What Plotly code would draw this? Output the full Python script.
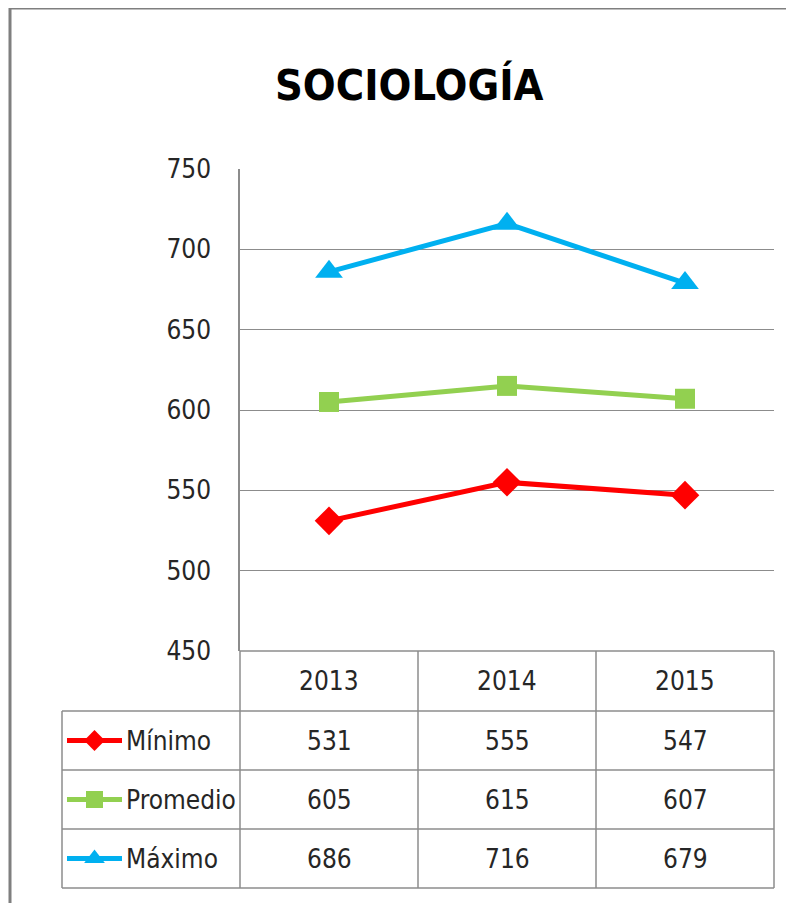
import plotly.graph_objects as go

years = ["2013", "2014", "2015"]
series_names = ["Mínimo", "Promedio", "Máximo"]
minimo = [531, 555, 547]
promedio = [605, 615, 607]
maximo = [686, 716, 679]
y_ticks = [450, 500, 550, 600, 650, 700, 750]
title_text = "SOCIOLOGÍA"

W, H = 794, 903
OFF = 8  # page body margin
def X(p): return (p - OFF) / W
def Y(p): return 1 - (p - OFF) / H

colors = ["#FF0000", "#92D050", "#00B0F0"]
symbols = ["diamond", "square", "triangle-up"]
msizes = [22, 20, 24]
key_sizes = [16, 17, 18]
values = [minimo, promedio, maximo]
FONT = "DejaVu Sans Condensed, Liberation Sans Narrow, DejaVu Sans, sans-serif"
TXT = "#262626"
GRID = "#8c8c8c"
FS = 26

fig = go.Figure()
for name, vals, c, s, ms in zip(series_names, values, colors, symbols, msizes):
    fig.add_trace(go.Scatter(x=years, y=vals, name=name, mode="lines+markers",
                             line=dict(color=c, width=5),
                             marker=dict(symbol=s, size=ms, color=c),
                             showlegend=False, xaxis="x", yaxis="y"))

tab_left, plot_left, plot_right = 62, 240, 774
row_lines = [651, 711, 770, 829, 888]
col_lines = [240, 418, 596, 774]
shapes = []
line_style = dict(color=GRID, width=1.5)
shapes.append(dict(type="line", xref="paper", yref="paper", x0=X(plot_left), x1=X(plot_right),
                   y0=Y(row_lines[0]), y1=Y(row_lines[0]), line=line_style))
for r in row_lines[1:]:
    shapes.append(dict(type="line", xref="paper", yref="paper", x0=X(tab_left), x1=X(plot_right),
                       y0=Y(r), y1=Y(r), line=line_style))
for cx in col_lines:
    shapes.append(dict(type="line", xref="paper", yref="paper", x0=X(cx), x1=X(cx),
                       y0=Y(row_lines[0]), y1=Y(row_lines[-1]), line=line_style))
shapes.append(dict(type="line", xref="paper", yref="paper", x0=X(tab_left), x1=X(tab_left),
                   y0=Y(row_lines[1]), y1=Y(row_lines[-1]), line=line_style))
shapes.append(dict(type="rect", xref="paper", yref="paper", x0=X(10), x1=X(830), y0=Y(8), y1=Y(940),
                   line=dict(color="#7f7f7f", width=3)))

annotations = []
annotations.append(dict(text=f"<b>{title_text}</b>", x=X(409), y=Y(85), xref="paper", yref="paper",
                        showarrow=False, xanchor="center", yanchor="middle",
                        font=dict(family=FONT, size=43, color="black")))
row_centers = [(row_lines[i] + row_lines[i + 1]) / 2 for i in range(4)]
n = len(years)
for j, yr in enumerate(years):
    annotations.append(dict(text=yr, x=(j + 0.5) / n, xref="x domain", y=Y(row_centers[0]), yref="paper",
                            showarrow=False, xanchor="center", yanchor="middle",
                            font=dict(family=FONT, size=FS, color=TXT)))
for i, (name, vals) in enumerate(zip(series_names, values)):
    yc = row_centers[i + 1]
    for j, v in enumerate(vals):
        annotations.append(dict(text=str(v), x=(j + 0.5) / n, xref="x domain", y=Y(yc), yref="paper",
                                showarrow=False, xanchor="center", yanchor="middle",
                                font=dict(family=FONT, size=FS, color=TXT)))
    annotations.append(dict(text=name, x=X(124), y=Y(yc), xref="paper", yref="paper",
                            showarrow=False, xanchor="left", yanchor="middle",
                            font=dict(family=FONT, size=FS, color=TXT)))

for i, (c, s, ks) in enumerate(zip(colors, symbols, key_sizes)):
    yc = row_centers[i + 1]
    fig.add_trace(go.Scatter(x=[67, 122], y=[yc, yc], mode="lines", line=dict(color=c, width=5),
                             showlegend=False, xaxis="x2", yaxis="y2", hoverinfo="skip"))
    fig.add_trace(go.Scatter(x=[94.5], y=[yc], mode="markers", marker=dict(symbol=s, size=ks, color=c),
                             showlegend=False, xaxis="x2", yaxis="y2", hoverinfo="skip"))

fig.update_layout(
    width=W, height=H,
    margin=dict(l=0, r=0, t=0, b=0, pad=0),
    paper_bgcolor="white", plot_bgcolor="rgba(0,0,0,0)",
    template="none",
    xaxis=dict(domain=[X(plot_left), X(plot_right)], type="category", range=[-0.5, 2.5],
               showticklabels=False, showgrid=False, zeroline=False, showline=False,
               automargin=False, fixedrange=True),
    yaxis=dict(domain=[Y(651), Y(169)], range=[450, 750], tickvals=y_ticks,
               showgrid=True, gridcolor=GRID, gridwidth=1, zeroline=False,
               showline=True, linecolor=GRID, linewidth=1.5, ticks="",
               ticklabelstandoff=22,
               tickfont=dict(family=FONT, size=FS, color=TXT), automargin=False, fixedrange=True),
    xaxis2=dict(domain=[0, 1], range=[OFF, W + OFF], visible=False, fixedrange=True, anchor="y2"),
    yaxis2=dict(domain=[0, 1], range=[H + OFF, OFF], visible=False, fixedrange=True, anchor="x2"),
    shapes=shapes, annotations=annotations,
)

fig.write_html("out.html")
